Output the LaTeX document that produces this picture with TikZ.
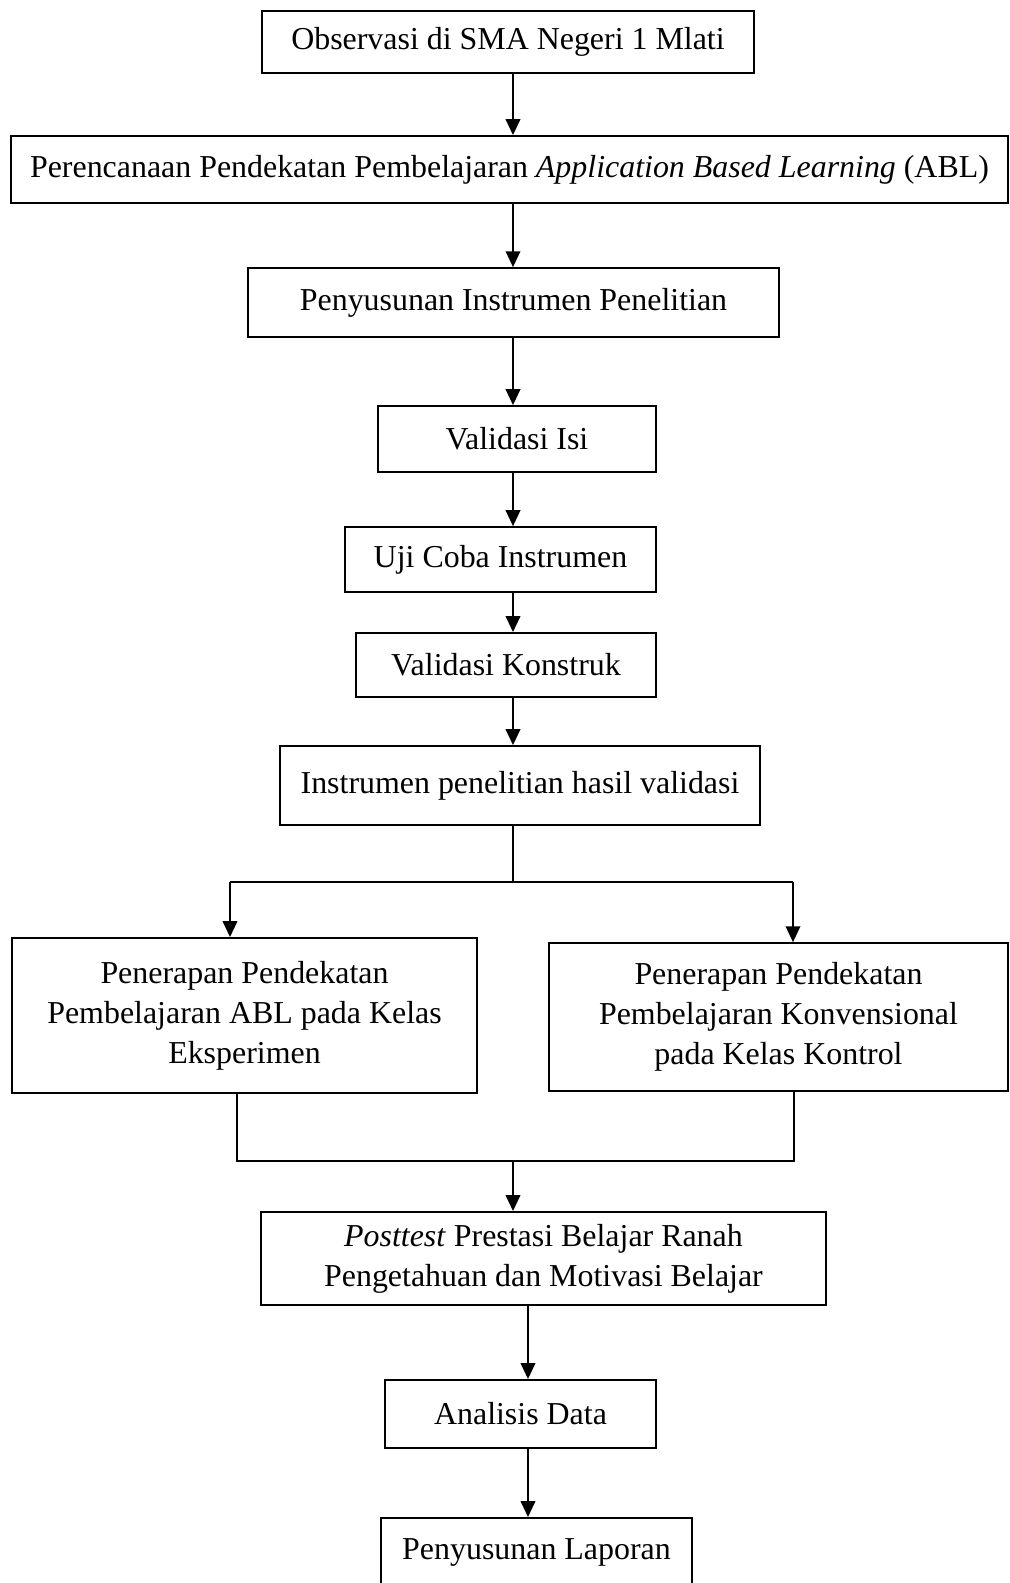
\documentclass[tikz,border=0pt]{standalone}
\usepackage{fontspec}
\setmainfont{Liberation Serif}
\usepackage{tikz}
\usetikzlibrary{arrows.meta,positioning}

\begin{document}
\begin{tikzpicture}[x=0.376pt, y=-0.376pt,
    kotak/.style={draw, line width=0.65pt, align=center, inner sep=0pt, font=\fontsize{12}{15}\selectfont},
    panah/.style={-{Triangle[length=6pt, width=5.4pt]}, line width=0.9pt},
    garis/.style={line width=0.4pt}]
      \useasboundingbox (0,0) rectangle (1010,1583);
      % Main column of steps
      \node[kotak, minimum width=185pt, minimum height=23.3pt] (obs) at (508,42) {Observasi di SMA Negeri 1 Mlati};
      \node[kotak, minimum width=374.9pt, minimum height=25.2pt] (abl) at (509.5,169.5) {Perencanaan Pendekatan Pembelajaran \textit{Application Based Learning} (ABL)};
      \node[kotak, minimum width=199.7pt, minimum height=25.9pt] (instrumen) at (513.5,302.5) {Penyusunan Instrumen Penelitian};
      \node[kotak, minimum width=104.5pt, minimum height=24.8pt] (validasi) at (517,439) {Validasi Isi};
      \node[kotak, minimum width=116.9pt, minimum height=24.4pt] (ujicoba) at (500.5,559.5) {Uji Coba Instrumen};
      \node[kotak, minimum width=112.8pt, minimum height=24.1pt] (konstruk) at (506,665) {Validasi Konstruk};
      \node[kotak, minimum width=180.5pt, minimum height=29.7pt] (hasil) at (520,785.5) {Instrumen penelitian hasil validasi};
      % The two classes
      \node[kotak, minimum width=174.8pt, minimum height=58.3pt] (eksperimen) at (244.5,1015.5) {Penerapan Pendekatan\\Pembelajaran ABL pada Kelas\\Eksperimen};
      \node[kotak, minimum width=172.6pt, minimum height=55.6pt] (kontrol) at (778.5,1017) {Penerapan Pendekatan\\Pembelajaran Konvensional\\pada Kelas Kontrol};
      % After the treatment
      \node[kotak, minimum width=212.4pt, minimum height=35pt] (posttest) at (543.5,1258.5) {\textit{Posttest} Prestasi Belajar Ranah\\Pengetahuan dan Motivasi Belajar};
      \node[kotak, minimum width=101.9pt, minimum height=25.6pt] (analisis) at (520.5,1414) {Analisis Data};
      \node[kotak, minimum width=116.9pt, minimum height=25.6pt] (laporan) at (536.5,1552) {Penyusunan Laporan};

      \coordinate (spine) at (513,0);
      \coordinate (spinebawah) at (528,0);
      \coordinate (cabang) at (513,882);
      \coordinate (kiri) at (230,882);
      \coordinate (kanan) at (793,882);
      \coordinate (gabung) at (513,1161);
      \coordinate (kiribawah) at (237,1161);
      \coordinate (kananbawah) at (794,1161);

      % Draw connecting arrows
      \foreach \a/\b in {obs/abl, abl/instrumen, instrumen/validasi, validasi/ujicoba, ujicoba/konstruk, konstruk/hasil} {
          \draw[panah] (\a.south -| spine) -- (\b.north -| spine);
        }
      \draw[garis] (hasil.south -| spine) -- (cabang);
      \draw[line width=0.6pt] (kiri) -- (kanan);
      \draw[panah] (kiri) -- (kiri |- eksperimen.north);
      \draw[panah] (kanan) -- (kanan |- kontrol.north);
      \draw[garis] (kiribawah |- eksperimen.south) -- (kiribawah) -- (kananbawah) -- (kananbawah |- kontrol.south);
      \draw[panah] (gabung) -- (gabung |- posttest.north);
      \draw[panah] (posttest.south -| spinebawah) -- (analisis.north -| spinebawah);
      \draw[panah] (analisis.south -| spinebawah) -- (laporan.north -| spinebawah);
    \end{tikzpicture}
\end{document}
